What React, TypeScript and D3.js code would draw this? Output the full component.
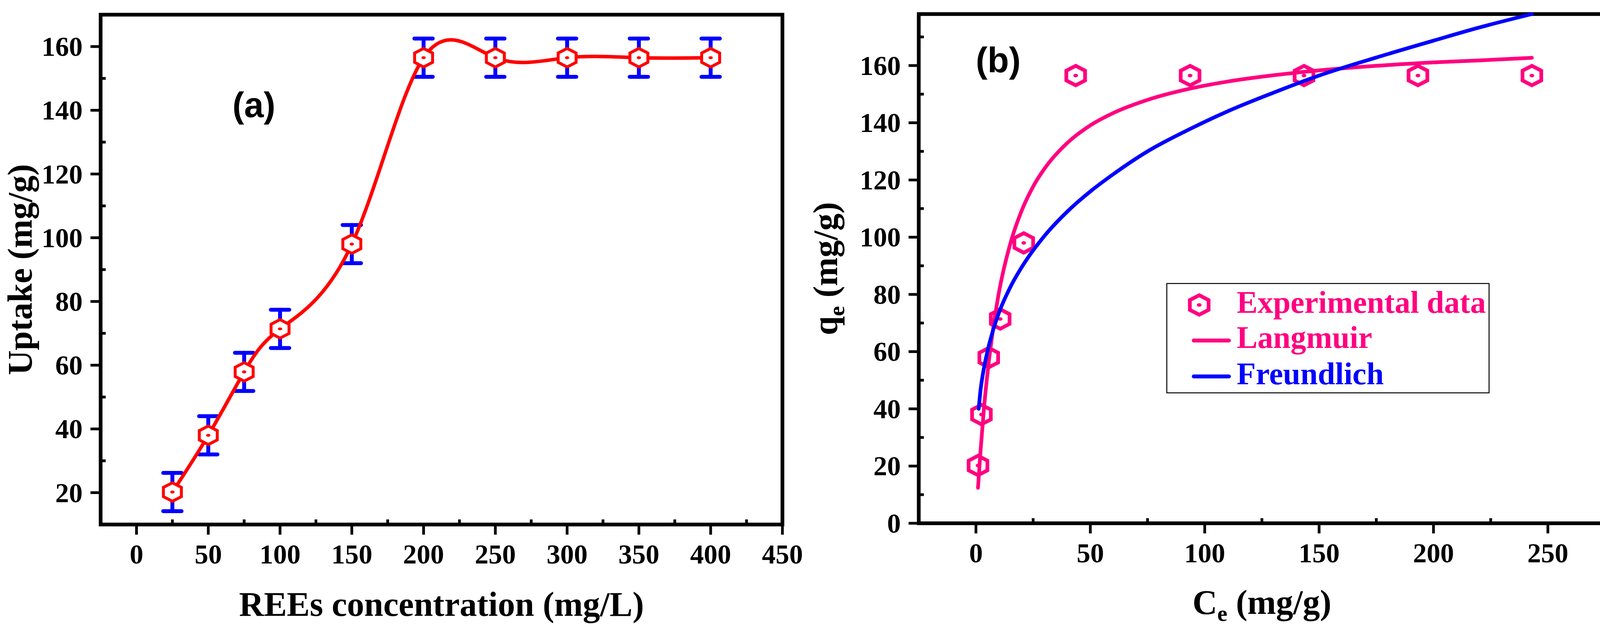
import React from 'react';
import * as d3 from 'd3';

// Panel (a): uptake vs REEs concentration
const concentration = [25, 50, 75, 100, 150, 200, 250, 300, 350, 400];
const uptake = [20.2, 38, 57.9, 71.4, 98, 156.5, 156.5, 156.5, 156.5, 156.5];
const uptakeError = [6, 6, 6, 6, 6, 6, 6, 6, 6, 6];
const xMajorA = [0, 50, 100, 150, 200, 250, 300, 350, 400, 450];
const xMinorA = [25, 75, 125, 175, 225, 275, 325, 375, 425];
const yMajorA = [20, 40, 60, 80, 100, 120, 140, 160];
const yMinorA = [30, 50, 70, 90, 110, 130, 150];

// Panel (b): isotherms
const ceExp = [0.9, 2.4, 5.6, 10.6, 20.9, 43.6, 93.6, 143.4, 193.2, 243];
const qeExp = [20.2, 38, 57.9, 71.4, 98, 156.5, 156.5, 156.5, 156.5, 156.5];
const langmuirCe = [0.9, 2, 3.5, 5, 7.5, 10, 15, 20, 25, 30, 40, 50, 60, 75, 94, 110, 130, 150, 175, 200, 220, 243];
const langmuirQ = [12.4, 25.2, 40.1, 52.1, 68, 80.5, 97.7, 109.3, 117.7, 124, 133, 139.1, 143.4, 148, 152, 154.4, 156.6, 158.3, 159.9, 161.1, 161.8, 162.7];
const freundlichCe = [1.2, 2, 3, 5, 7.5, 10, 15, 20, 30, 40, 50, 60, 75, 94, 110, 130, 150, 175, 200, 220, 243];
const freundlichQ = [40, 46.5, 52, 60, 67.5, 73.5, 82.5, 89.5, 100.5, 109, 116, 122, 130, 138, 144, 150.5, 156.5, 162.8, 168.7, 173.3, 178];
const xMajorB = [0, 50, 100, 150, 200, 250];
const xMinorB = [25, 75, 125, 175, 225];
const yMajorB = [0, 20, 40, 60, 80, 100, 120, 140, 160];
const yMinorB = [10, 30, 50, 70, 90, 110, 130, 150, 170];

const SERIF = '"Liberation Serif", "Times New Roman", serif';
const SANS = '"Liberation Sans", Arial, sans-serif';
const RED = '#FF0000';
const PINK = '#FF0080';
const BLUE = '#0000FF';

const hexPath = (w: number, h: number) =>
  `M0,${-h}L${w},${-h / 2}L${w},${h / 2}L0,${h}L${-w},${h / 2}L${-w},${-h / 2}Z`;

interface FrameProps {
  x: d3.ScaleLinear<number, number>;
  y: d3.ScaleLinear<number, number>;
  xMajor: number[];
  xMinor: number[];
  yMajor: number[];
  yMinor: number[];
}

const Frame: React.FC<FrameProps> = ({ x, y, xMajor, xMinor, yMajor, yMinor }) => {
  const [x0, x1] = x.range();
  const [y0, y1] = y.range(); // y0 bottom, y1 top
  return (
    <g>
      {xMajor.map(t => (
        <g key={'xm' + t}>
          <line x1={x(t)} x2={x(t)} y1={y0} y2={y0 + 26} stroke="#000" strokeWidth={7} />
          <text x={x(t)} y={y0 + 100} textAnchor="middle" fontFamily={SERIF} fontWeight="bold" fontSize={70}>
            {t}
          </text>
        </g>
      ))}
      {xMinor.map(t => (
        <line key={'xn' + t} x1={x(t)} x2={x(t)} y1={y0} y2={y0 - 13} stroke="#000" strokeWidth={7} />
      ))}
      {yMajor.map(t => (
        <g key={'ym' + t}>
          <line x1={x0} x2={x0 - 26} y1={y(t)} y2={y(t)} stroke="#000" strokeWidth={7} />
          <text x={x0 - 46} y={y(t) + 24} textAnchor="end" fontFamily={SERIF} fontWeight="bold" fontSize={70}>
            {t}
          </text>
        </g>
      ))}
      {yMinor.map(t => (
        <line key={'yn' + t} x1={x0} x2={x0 + 13} y1={y(t)} y2={y(t)} stroke="#000" strokeWidth={7} />
      ))}
      <rect x={x0} y={y1} width={x1 - x0} height={y0 - y1} fill="none" stroke="#000" strokeWidth={9.5} />
    </g>
  );
};

export default function App() {
  const xa = d3.scaleLinear().domain([-25, 450]).range([257.6, 2003]);
  const ya = d3.scaleLinear().domain([10, 170]).range([1343.2, 37.6]);
  const xb = d3.scaleLinear().domain([-25, 275]).range([2352, 4109]);
  const yb = d3.scaleLinear().domain([0, 178]).range([1340, 36]);

  const uptakeLine = d3
    .line<number>()
    .x((_, i) => xa(concentration[i]))
    .y(d => ya(d))
    .curve(d3.curveNatural)(uptake) as string;

  const langmuirLine = d3
    .line<number>()
    .x(d => xb(d))
    .y((_, i) => yb(langmuirQ[i]))
    .curve(d3.curveMonotoneX)(langmuirCe) as string;

  const freundlichLine = d3
    .line<number>()
    .x(d => xb(d))
    .y((_, i) => yb(freundlichQ[i]))
    .curve(d3.curveMonotoneX)(freundlichCe) as string;

  const hexA = hexPath(23, 23.7);
  const hexB = hexPath(24, 25);

  return (
    <svg
      width={4148}
      height={1621}
      viewBox="0 0 4148 1621"
      style={{ position: 'absolute', left: 0, top: 0, background: '#fff' }}
    >
      <rect width={4148} height={1621} fill="#fff" />

      {/* Panel (a) */}
      <Frame x={xa} y={ya} xMajor={xMajorA} xMinor={xMinorA} yMajor={yMajorA} yMinor={yMinorA} />
      {concentration.map((c, i) => {
        const cx = xa(c);
        const top = ya(uptake[i] + uptakeError[i]);
        const bot = ya(uptake[i] - uptakeError[i]);
        return (
          <g key={'err' + c} stroke={BLUE} strokeWidth={10} strokeLinecap="round">
            <line x1={cx} x2={cx} y1={top} y2={bot} />
            <line x1={cx - 23.5} x2={cx + 23.5} y1={top} y2={top} />
            <line x1={cx - 23.5} x2={cx + 23.5} y1={bot} y2={bot} />
          </g>
        );
      })}
      <path d={uptakeLine} fill="none" stroke={RED} strokeWidth={9} />
      {concentration.map((c, i) => (
        <g key={'mk' + c} transform={`translate(${xa(c)},${ya(uptake[i])})`}>
          <path d={hexA} fill="#fff" stroke={RED} strokeWidth={7.5} />
          <ellipse rx={5.5} ry={3.8} fill={RED} />
        </g>
      ))}
      <text x={595} y={300} fontFamily={SANS} fontWeight="bold" fontSize={90}>
        (a)
      </text>
      <text
        transform={`translate(81,${(ya.range()[0] + ya.range()[1]) / 2}) rotate(-90)`}
        textAnchor="middle"
        fontFamily={SERIF}
        fontWeight="bold"
        fontSize={88}
      >
        Uptake (mg/g)
      </text>
      <text
        x={(xa.range()[0] + xa.range()[1]) / 2}
        y={1577}
        textAnchor="middle"
        fontFamily={SERIF}
        fontWeight="bold"
        fontSize={88}
      >
        REEs concentration (mg/L)
      </text>

      {/* Panel (b) */}
      <Frame x={xb} y={yb} xMajor={xMajorB} xMinor={xMinorB} yMajor={yMajorB} yMinor={yMinorB} />
      {ceExp.map((c, i) => (
        <g key={'mb' + i} transform={`translate(${xb(c)},${yb(qeExp[i])})`}>
          <path d={hexB} fill="none" stroke={PINK} strokeWidth={9.5} />
          <ellipse rx={6} ry={4.5} fill={PINK} />
        </g>
      ))}
      <path d={langmuirLine} fill="none" stroke={PINK} strokeWidth={9.5} strokeLinecap="round" />
      <path d={freundlichLine} fill="none" stroke={BLUE} strokeWidth={9.5} strokeLinecap="round" />
      <text x={2498} y={185} fontFamily={SANS} fontWeight="bold" fontSize={90}>
        (b)
      </text>
      <text
        transform={`translate(2143,${(yb.range()[0] + yb.range()[1]) / 2}) rotate(-90)`}
        textAnchor="middle"
        fontFamily={SERIF}
        fontWeight="bold"
        fontSize={88}
      >
        q<tspan fontSize={58} dy={18}>e</tspan>
        <tspan dy={-18}> (mg/g)</tspan>
      </text>
      <text
        x={(xb.range()[0] + xb.range()[1]) / 2}
        y={1572}
        textAnchor="middle"
        fontFamily={SERIF}
        fontWeight="bold"
        fontSize={88}
      >
        C<tspan fontSize={58} dy={18}>e</tspan>
        <tspan dy={-18}> (mg/g)</tspan>
      </text>

      {/* Legend */}
      <rect x={2987} y={726} width={825} height={280} fill="none" stroke="#000" strokeWidth={2.5} />
      <g transform="translate(3070,781)">
        <path d={hexB} fill="none" stroke={PINK} strokeWidth={9.5} />
        <ellipse rx={6} ry={4.5} fill={PINK} />
      </g>
      <text x={3166} y={801} fontFamily={SERIF} fontWeight="bold" fontSize={80} fill={PINK}>
        Experimental data
      </text>
      <line x1={3056} x2={3146} y1={872} y2={872} stroke={PINK} strokeWidth={10} strokeLinecap="round" />
      <text x={3166} y={891} fontFamily={SERIF} fontWeight="bold" fontSize={80} fill={PINK}>
        Langmuir
      </text>
      <line x1={3056} x2={3146} y1={964} y2={964} stroke={BLUE} strokeWidth={10} strokeLinecap="round" />
      <text x={3166} y={984} fontFamily={SERIF} fontWeight="bold" fontSize={80} fill={BLUE}>
        Freundlich
      </text>
    </svg>
  );
}
